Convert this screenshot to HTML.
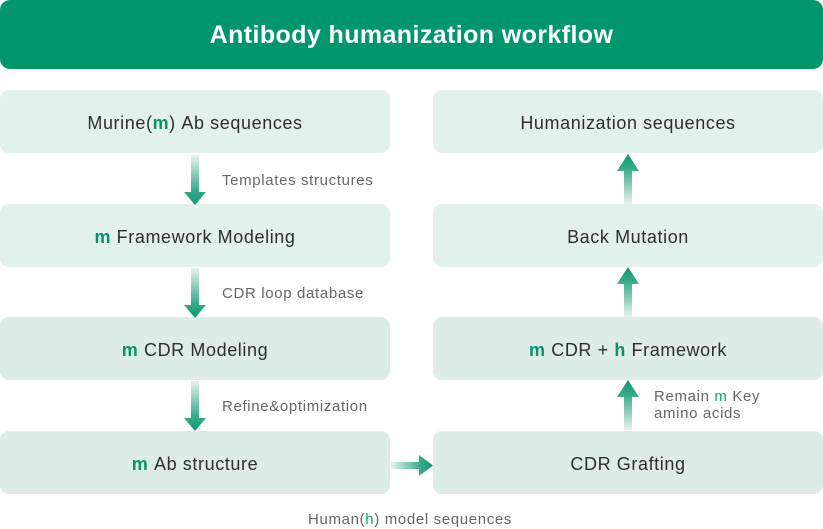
<!DOCTYPE html>
<html><head><meta charset="utf-8">
<style>
*{margin:0;padding:0;box-sizing:border-box}
html,body{width:823px;height:529px;background:#fff;overflow:hidden}
body{position:relative;font-family:"Liberation Sans","DejaVu Sans",sans-serif}
.hdr{position:absolute;left:0;top:0;width:823px;height:69px;background:#02966f;border-radius:10px;color:#fff;font-weight:bold;font-size:25px;display:flex;align-items:center;justify-content:center;letter-spacing:0.4px;padding-top:2px}
.box{position:absolute;width:390px;height:63px;border-radius:9px;display:flex;align-items:center;justify-content:center;font-size:18px;color:#2e2e2e;letter-spacing:0.6px;background:#e3f1ed;padding-top:4px}
.box.d{background:#ddece7}
.g{color:#07936b;font-weight:bold}
.lbl{position:absolute;font-size:15px;color:#666;white-space:nowrap;letter-spacing:0.65px}
.lbl .g2{color:#13a07a}
svg{position:absolute;left:0;top:0}
</style></head><body>
<div class="hdr">Antibody humanization workflow</div>

<div class="box" style="left:0;top:90px">Murine(<span class="g">m</span>)&nbsp;Ab sequences</div>
<div class="box" style="left:0;top:204px"><span class="g">m</span>&nbsp;Framework Modeling</div>
<div class="box d" style="left:0;top:317px"><span class="g">m</span>&nbsp;CDR Modeling</div>
<div class="box d" style="left:0;top:431px"><span class="g">m</span>&nbsp;Ab structure</div>

<div class="box" style="left:433px;top:90px">Humanization sequences</div>
<div class="box" style="left:433px;top:204px">Back Mutation</div>
<div class="box d" style="left:433px;top:317px"><span class="g">m</span>&nbsp;CDR +&nbsp;<span class="g">h</span>&nbsp;Framework</div>
<div class="box d" style="left:433px;top:431px">CDR Grafting</div>

<div class="lbl" style="left:222px;top:172px">Templates structures</div>
<div class="lbl" style="left:222px;top:285px">CDR loop database</div>
<div class="lbl" style="left:222px;top:398px">Refine&amp;optimization</div>
<div class="lbl" style="left:654px;top:388px;line-height:17px">Remain <span class="g2">m</span> Key<br>amino acids</div>
<div class="lbl" style="left:308px;top:511px">Human(<span class="g2">h</span>) model sequences</div>

<svg width="823" height="529" viewBox="0 0 823 529">
<defs>
<linearGradient id="dn" x1="0" y1="0" x2="0" y2="1">
<stop offset="0" stop-color="#e6f3ef"/><stop offset="0.7" stop-color="#3aab8a"/><stop offset="1" stop-color="#0e9770"/>
</linearGradient>
<linearGradient id="up" x1="0" y1="1" x2="0" y2="0">
<stop offset="0" stop-color="#e6f3ef"/><stop offset="0.7" stop-color="#3aab8a"/><stop offset="1" stop-color="#0e9770"/>
</linearGradient>
<linearGradient id="rt" x1="0" y1="0" x2="1" y2="0">
<stop offset="0" stop-color="#e6f3ef"/><stop offset="0.7" stop-color="#3aab8a"/><stop offset="1" stop-color="#0e9770"/>
</linearGradient>
</defs>
<g fill="url(#dn)">
<svg x="184" y="155" width="22" height="51" viewBox="0 0 22 51" preserveAspectRatio="none"><path d="M7 0H15V37H22L11 50L0 37H7Z"/></svg>
<svg x="184" y="268" width="22" height="51" viewBox="0 0 22 51" preserveAspectRatio="none"><path d="M7 0H15V37H22L11 50L0 37H7Z"/></svg>
<svg x="184" y="381" width="22" height="51" viewBox="0 0 22 51" preserveAspectRatio="none"><path d="M7 0H15V37H22L11 50L0 37H7Z"/></svg>
</g>
<g fill="url(#up)">
<svg x="617" y="154" width="22" height="50" viewBox="0 0 22 50" preserveAspectRatio="none"><path d="M11 0L22 17H15V50H7V17H0Z"/></svg>
<svg x="617" y="267" width="22" height="50" viewBox="0 0 22 50" preserveAspectRatio="none"><path d="M11 0L22 17H15V50H7V17H0Z"/></svg>
<svg x="617" y="380" width="22" height="50" viewBox="0 0 22 50" preserveAspectRatio="none"><path d="M11 0L22 17H15V50H7V17H0Z"/></svg>
</g>
<svg x="391" y="455" width="42" height="21" viewBox="0 0 42 21" preserveAspectRatio="none" fill="url(#rt)"><path d="M0 7H28V0L42 10.5L28 21V14H0Z"/></svg>
</svg>
</body></html>
